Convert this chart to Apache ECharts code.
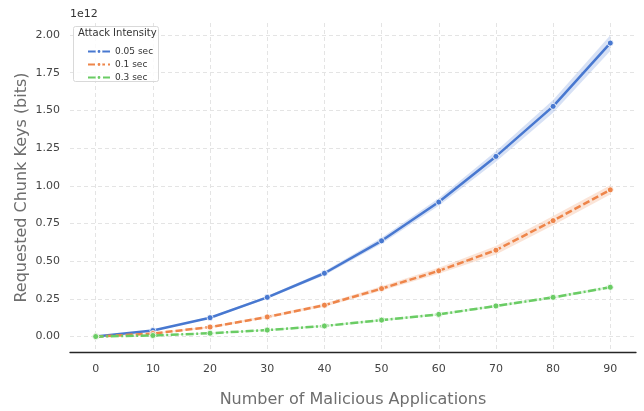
<!DOCTYPE html>
<html><head><meta charset="utf-8">
<script src="https://cdn.jsdelivr.net/npm/echarts@6/dist/echarts.min.js"></script>
<style>html,body{margin:0;padding:0;background:#fff}#c{width:644px;height:411px}</style>
</head><body><div id="c"></div>
<script>
// Data (values in units of 1e12 bits)
const xValues = [0, 10, 20, 30, 40, 50, 60, 70, 80, 90];
const xTicks = [0, 10, 20, 30, 40, 50, 60, 70, 80, 90];
const yTicks = [0, 0.25, 0.5, 0.75, 1.0, 1.25, 1.5, 1.75, 2.0];
const seriesNames = ['0.05 sec', '0.1 sec', '0.3 sec'];
const blue   = [0, 0.040, 0.125, 0.260, 0.420, 0.635, 0.892, 1.195, 1.527, 1.947];
const orange = [0, 0.020, 0.063, 0.130, 0.208, 0.318, 0.436, 0.573, 0.769, 0.973];
const green  = [0, 0.007, 0.022, 0.043, 0.070, 0.109, 0.147, 0.203, 0.260, 0.327];
const blueLow    = [0, 0.037, 0.119, 0.251, 0.406, 0.615, 0.867, 1.160, 1.485, 1.895];
const blueHigh   = [0, 0.043, 0.131, 0.269, 0.434, 0.655, 0.917, 1.230, 1.569, 1.999];
const orangeLow  = [0, 0.017, 0.057, 0.121, 0.197, 0.303, 0.416, 0.545, 0.739, 0.943];
const orangeHigh = [0, 0.023, 0.069, 0.139, 0.219, 0.333, 0.456, 0.601, 0.799, 1.003];
const greenLow   = [0, 0.004, 0.018, 0.038, 0.064, 0.102, 0.140, 0.195, 0.251, 0.318];
const greenHigh  = [0, 0.010, 0.026, 0.048, 0.076, 0.116, 0.154, 0.211, 0.269, 0.336];

const colors = ['#4878d0', '#ee854a', '#6acc64'];
const dashes = ['solid', [7, 3], [8, 2.5, 2, 2.5]];
const mains = [blue, orange, green];
const lows = [blueLow, orangeLow, greenLow];
const highs = [blueHigh, orangeHigh, greenHigh];

const pairs = arr => xValues.map((x, i) => [x, arr[i]]);
const series = [];
for (let k = 0; k < 3; k++) {
  series.push({
    type: 'custom', silent: true, z: 1, clip: true,
    data: [0],
    renderItem: (params, api) => {
      const pts = [];
      xValues.forEach((x, i) => pts.push(api.coord([x, lows[k][i]])));
      for (let i = xValues.length - 1; i >= 0; i--) pts.push(api.coord([xValues[i], highs[k][i]]));
      return { type: 'polygon', shape: { points: pts },
        style: { fill: colors[k], opacity: 0.22, stroke: 'none' } };
    }
  });
}
for (let k = 0; k < 3; k++) {
  series.push({
    name: seriesNames[k], type: 'line', data: pairs(mains[k]),
    symbol: 'circle', symbolSize: 6, showSymbol: true,
    itemStyle: { color: colors[k], borderColor: '#fff', borderWidth: 0.8 },
    lineStyle: { color: colors[k], width: 2.5, type: dashes[k] },
    z: 3
  });
}

const chart = echarts.init(document.getElementById('c'), null, { renderer: 'canvas' });
chart.setOption({
  animation: false,
  backgroundColor: '#fff',
  grid: { left: 70, right: 8, top: 23, bottom: 59, containLabel: false, outerBoundsMode: 'none' },
  xAxis: {
    type: 'value', min: -4.5, max: 94.5,
    name: 'Number of Malicious Applications', nameLocation: 'middle', nameGap: 40,
    nameTextStyle: { fontFamily: 'DejaVu Sans', fontSize: 16, color: '#6e6e6e' },
    axisLine: { show: true, onZero: false, lineStyle: { color: '#262626', width: 1.3 } },
    axisTick: { show: false, customValues: xTicks },
    axisLabel: { customValues: xTicks, color: '#444', fontFamily: 'DejaVu Sans', fontSize: 11, margin: 12 },
    splitLine: { show: true, lineStyle: { color: '#e4e4e4', type: [4, 3], width: 1 } }
  },
  yAxis: {
    type: 'value', min: -0.1025, max: 2.08,
    name: 'Requested Chunk Keys (bits)', nameLocation: 'middle', nameGap: 40, nameRotate: 90,
    nameMoveOverlap: false,
    nameTextStyle: { fontFamily: 'DejaVu Sans', fontSize: 16, color: '#6e6e6e' },
    axisLine: { show: false },
    axisTick: { show: false, customValues: yTicks },
    axisLabel: { customValues: yTicks, color: '#444', fontFamily: 'DejaVu Sans', fontSize: 11, margin: 10,
      formatter: v => v.toFixed(2) },
    splitLine: { show: true, lineStyle: { color: '#e4e4e4', type: [4, 3], width: 1 } }
  },
  legend: {
    data: seriesNames, orient: 'vertical', left: 82, top: 42, z: 10,
    itemWidth: 22, itemHeight: 6, itemGap: 4,
    textStyle: { fontFamily: 'DejaVu Sans', fontSize: 9, color: '#333' },
    selectedMode: false
  },
  graphic: [
    { type: 'rect', shape: { x: 73.5, y: 26.5, width: 85, height: 55, r: 2 },
      style: { fill: 'rgba(255,255,255,0.85)', stroke: '#d9d9d9', lineWidth: 1 }, z: 4 },
    { type: 'text', left: 78, top: 28, z: 6,
      style: { text: 'Attack Intensity', fontFamily: 'DejaVu Sans', fontSize: 10, fill: '#333' } },
    { type: 'text', left: 70, top: 9, z: 6,
      style: { text: '1e12', fontFamily: 'DejaVu Sans', fontSize: 11, fill: '#333' } }
  ],
  series: series
});
</script>
</body></html>
